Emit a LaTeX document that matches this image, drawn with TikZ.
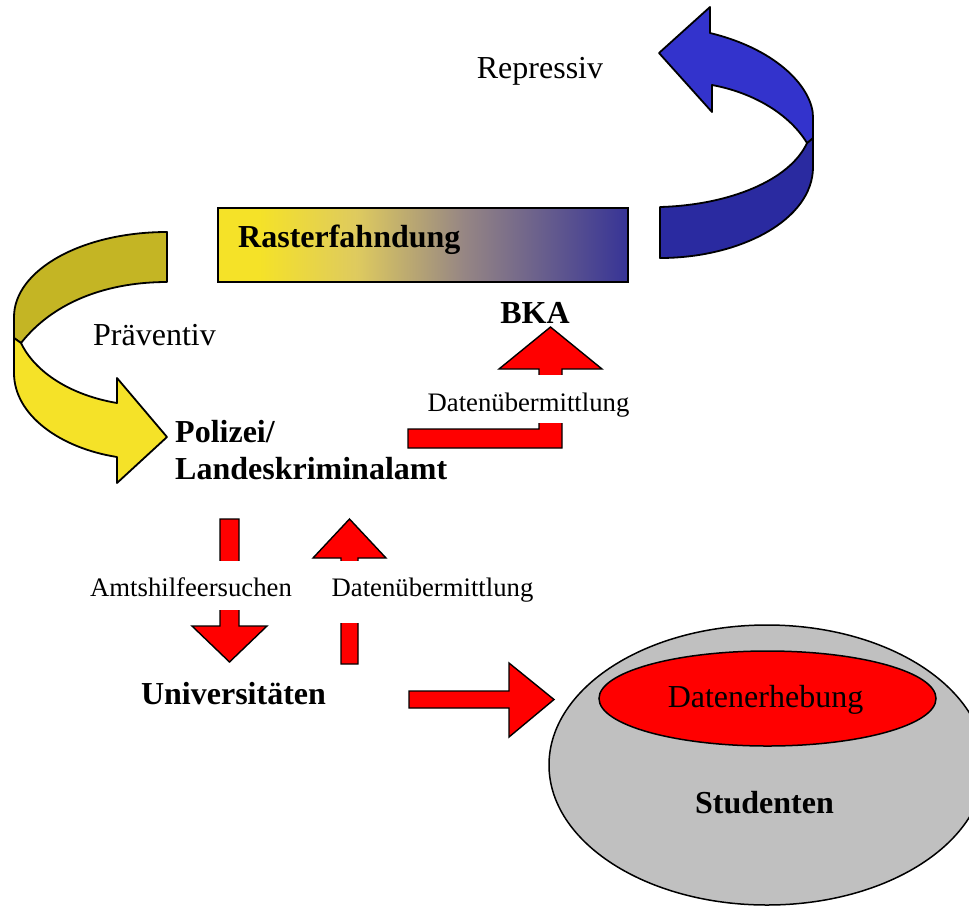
\documentclass[tikz,border=0pt]{standalone}
\usepackage{fontspec}
\setmainfont{Liberation Serif}
\usetikzlibrary{shapes.geometric}
\definecolor{ryel}{RGB}{245,226,40}
\definecolor{rolive}{RGB}{196,181,36}
\definecolor{rblue}{RGB}{51,51,204}
\definecolor{rdblue}{RGB}{42,42,160}
\definecolor{sgrey}{RGB}{192,192,192}
\definecolor{rmidA}{RGB}{222,202,95}
\definecolor{rmidB}{RGB}{150,134,132}
\definecolor{rblB}{RGB}{55,52,150}
\pgfdeclarehorizontalshading{raster}{100bp}{color(0bp)=(ryel); color(30bp)=(ryel); color(42bp)=(rmidA); color(55bp)=(rmidB); color(75bp)=(rblB); color(100bp)=(rblB)}
\begin{document}
\begin{tikzpicture}[x=1pt,y=-1pt,
  redarr/.style={fill=red,draw=black,line width=1.4pt,line join=miter},
  ribbon/.style={draw=black,line width=1.8pt,line join=round},
  fbig/.style={font=\fontsize{32}{36}\selectfont},
  fbold/.style={font=\fontsize{32}{36}\selectfont\bfseries},
  fsmall/.style={font=\fontsize{26.7}{30}\selectfont},
  cover/.style={fill=white,inner xsep=4pt,inner ysep=0pt}]
\useasboundingbox (0,0) rectangle (969,906);
\clip (0,0) rectangle (969,906);

% Rasterfahndung box
\node[draw=black, line width=1.5pt, shading=raster, minimum width=410pt, minimum height=74pt, inner sep=0, anchor=north west] (rbox) at (217,207) {};

% yellow ribbon arrow (Praeventiv)
\path[ribbon, fill=rolive] (167,232) .. controls (82,232) and (14,270) .. (14,317) -- (14,338) -- (21,343) .. controls (55,300) and (110,282) .. (167,282) -- cycle;
\path[ribbon, fill=ryel] (14,338) -- (14,373) .. controls (14,415) and (60,448) .. (117,457) -- (117,483) -- (167,437) -- (117,378) -- (117,403) .. controls (70,395) and (35,372) .. (21,343) -- cycle;

% blue ribbon arrow (Repressiv)
\path[ribbon, fill=rdblue] (660,207) .. controls (730,205) and (790,180) .. (807,143) -- (813,138) -- (813,167) .. controls (813,220) and (740,258) .. (660,258) -- cycle;
\path[ribbon, fill=rblue] (813,138) -- (813,117) .. controls (813,90) and (780,50) .. (710,33) -- (710,7) -- (659,53) -- (712,112) -- (712,85) .. controls (755,93) and (790,115) .. (807,143) -- cycle;

% red block arrows
\draw[redarr] (408,429) -- (539,429) -- (539,369) -- (499,369) -- (550.5,327) -- (602,369) -- (562,369) -- (562,448) -- (408,448) -- cycle;
\draw[redarr] (220,519) -- (239,519) -- (239,626) -- (267,626) -- (229.5,662) -- (192,626) -- (220,626) -- cycle;
\draw[redarr] (341,664) -- (341,558) -- (313,558) -- (349.5,519) -- (386,558) -- (358,558) -- (358,664) -- cycle;
\draw[redarr] (409,691) -- (509,691) -- (509,663) -- (554,699.5) -- (509,737) -- (509,708) -- (409,708) -- cycle;

% Studenten ellipses
\node[ellipse, draw=black, line width=1.5pt, fill=sgrey, minimum width=436pt, minimum height=280pt, inner sep=0] (stud) at (767,765) {};
\node[ellipse, draw=black, line width=1.5pt, fill=red, minimum width=337pt, minimum height=95pt, inner sep=0] (erheb) at (767.5,698.5) {};

% labels that interrupt the arrows
\node[fsmall, cover, anchor=base, text height=36pt, text depth=12pt] (dat1) at (528.5,411) {Datenübermittlung};
\node[fsmall, cover, anchor=base, text height=35pt, text depth=14pt] (amts) at (191,596) {Amtshilfeersuchen};
\node[fsmall, cover, anchor=base, text height=35pt, text depth=27pt] (dat2) at (432.5,596) {Datenübermittlung};

% texts
\node[fbold, anchor=base west, inner sep=0] (raster) at (238,247) {Rasterfahndung};
\node[fbig, anchor=base] (repr) at (540,78) {Repressiv};
\node[fbold, anchor=base] (bka) at (535,323) {BKA};
\node[fbig, anchor=base west, inner sep=0] (praev) at (93,345) {Präventiv};
\node[fbold, anchor=base west, inner sep=0] (pol1) at (175,442) {Polizei/};
\node[fbold, anchor=base west, inner sep=0] (pol2) at (175,479) {Landeskriminalamt};
\node[fbold, anchor=base] (uni) at (233.5,704) {Universitäten};
\node[fbig, anchor=base] (erhebt) at (765.5,707) {Datenerhebung};
\node[fbold, anchor=base] (studt) at (764.5,813) {Studenten};
\end{tikzpicture}
\end{document}
